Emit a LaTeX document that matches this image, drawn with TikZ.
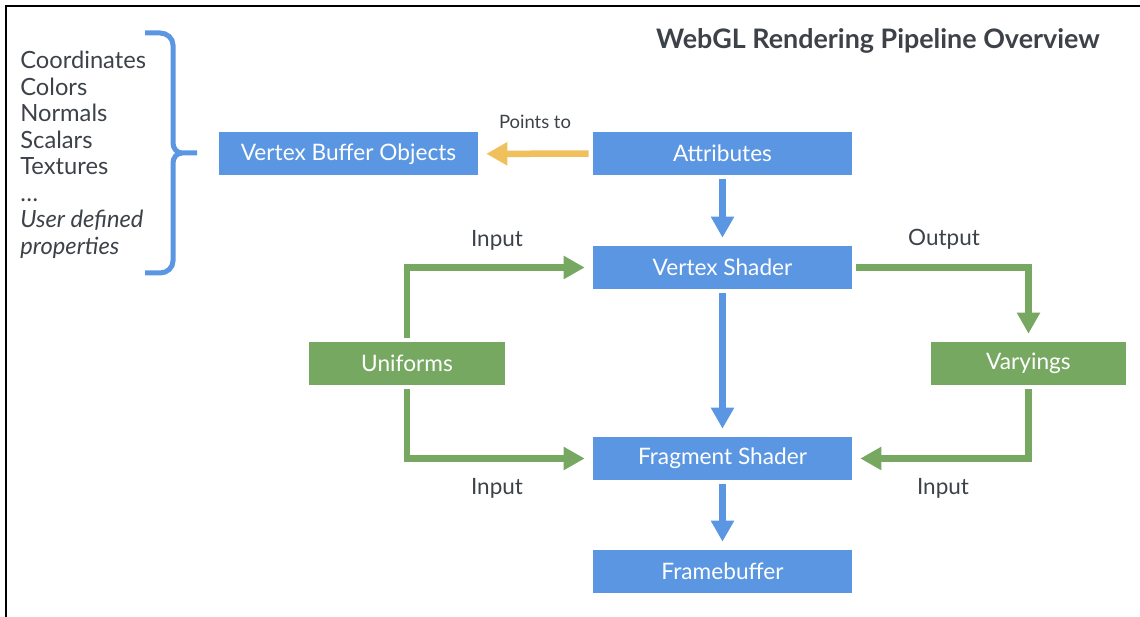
\documentclass[tikz,border=0pt]{standalone}
\usepackage{fontspec}
\setmainfont{Lato}
\usetikzlibrary{arrows.meta}
\definecolor{glblue}{HTML}{5A96E2}
\definecolor{glgreen}{HTML}{76A862}
\definecolor{glyellow}{HTML}{F0C05C}
\definecolor{gltext}{HTML}{3D4248}

\begin{document}
\begin{tikzpicture}[x=0.02cm, y=-0.02cm,
		block/.style={fill=glblue, text=white, minimum width=5.18cm, minimum height=0.86cm, inner sep=0pt, font=\fontsize{12.9}{14}\selectfont},
		gblock/.style={block, fill=glgreen, minimum width=3.92cm},
		flow/.style={line width=0.13cm, -{Triangle[width=0.44cm, length=0.42cm]}, shorten <=0.08cm, shorten >=0.16cm},
		lbl/.style={text=gltext, font=\fontsize{12.8}{14}\selectfont}]
		\useasboundingbox (0,0) rectangle (1140,617);
		\draw[line width=0.05cm] (1140,6) -- (6,6) -- (6,617);
		\node[text=gltext, font=\bfseries\fontsize{15.3}{17}\selectfont] (title) at (878,41) {WebGL Rendering Pipeline Overview};
		% buffer contents
		\node[anchor=north west, align=left, inner sep=0pt, text=gltext, font=\fontsize{13.5}{15.1}\selectfont] (props) at (20,51)
			{Coordinates\\Colors\\Normals\\Scalars\\Textures\\\dots\\\textit{User defined}\\\textit{properties}};
		\draw[glblue, line width=0.1cm] (145,33) -- (160,33) to[out=0,in=90] (173,45) -- (173,143) to[out=-90,in=180] (182,153) -- (197,153);
		\draw[glblue, line width=0.1cm] (145,273) -- (160,273) to[out=0,in=-90] (173,261) -- (173,163) to[out=90,in=180] (182,153);
		% boxes
		\node[block] (vbo) at (348.5,154) {Vertex Buffer Objects};
		\node[block] (attr) at (722.5,153.5) {Attributes};
		\node[block] (vshader) at (722.5,267.5) {Vertex Shader};
		\node[gblock] (uni) at (407,363.5) {Uniforms};
		\node[gblock] (vary) at (1028.5,363.5) {Varyings};
		\node[block] (fshader) at (722.5,458.5) {Fragment Shader};
		\node[block] (fbuf) at (722.5,571.5) {Framebuffer};
		% arrows
		\draw[flow, glyellow] (attr) -- (vbo);
		\draw[flow, glblue] (attr) -- (vshader);
		\draw[flow, glblue] (vshader) -- (fshader);
		\draw[flow, glblue] (fshader) -- (fbuf);
		\draw[flow, glgreen] (uni) |- (vshader);
		\draw[flow, glgreen] (uni) |- (fshader);
		\draw[flow, glgreen] (vshader) -| (vary);
		\draw[flow, glgreen] (vary) |- (fshader);
		% labels
		\node[lbl, font=\fontsize{10.5}{12}\selectfont] (pts) at (535,122) {Points to};
		\node[lbl] (in1) at (497,240) {Input};
		\node[lbl] (out1) at (944,239) {Output};
		\node[lbl] (in2) at (497,488) {Input};
		\node[lbl] (in3) at (943,488) {Input};
\end{tikzpicture}
\end{document}
